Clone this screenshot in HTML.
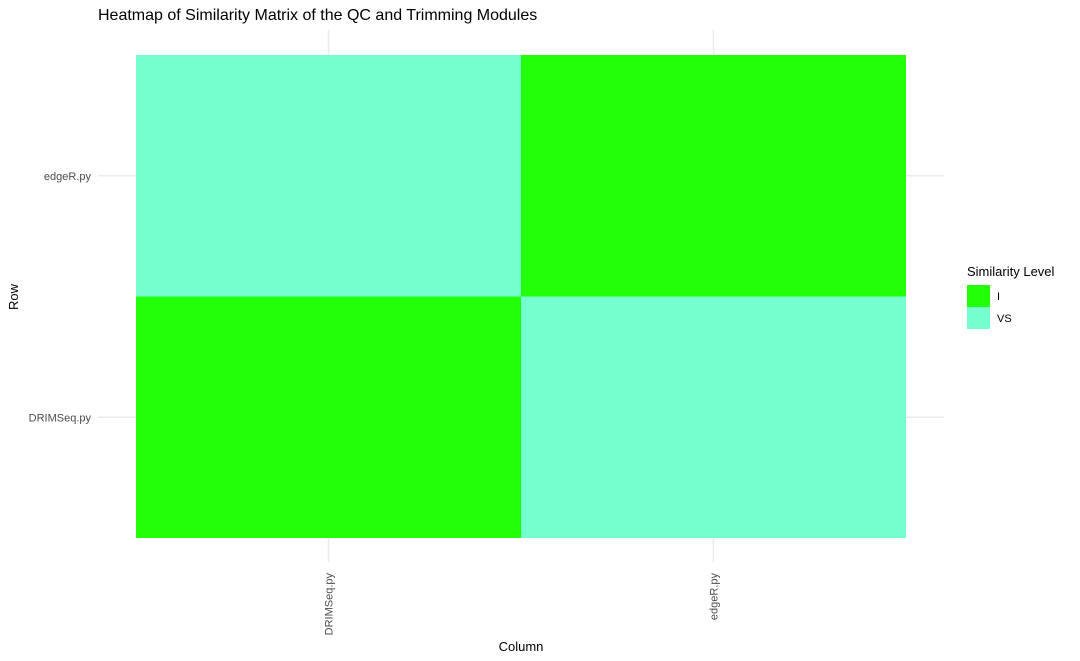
<!DOCTYPE html>
<html><head><meta charset="utf-8"><style>
body{margin:0;background:#fff;}
svg{display:block;font-family:"Liberation Sans",Arial,sans-serif;}
</style></head><body>
<svg id="chart" width="1080" height="661">
<text x="98" y="20" font-size="16" fill="#000">Heatmap of Similarity Matrix of the QC and Trimming Modules</text>
<g id="grid"></g>
<g id="tiles"></g>
<g id="axes"></g>
<text x="521" y="651" font-size="13" text-anchor="middle">Column</text>
<text transform="translate(18,297) rotate(-90)" font-size="13" text-anchor="middle">Row</text>
<g>
<text x="967" y="276" font-size="13">Similarity Level</text>
<g id="legend"></g>
</g>
</svg>
<script>
const columns=["DRIMSeq.py","edgeR.py"];
const rows=["DRIMSeq.py","edgeR.py"];
const cellRow=["DRIMSeq.py","DRIMSeq.py","edgeR.py","edgeR.py"];
const cellCol=["DRIMSeq.py","edgeR.py","DRIMSeq.py","edgeR.py"];
const cellLevel=["I","VS","VS","I"];
const levels=["I","VS"];
const levelColors={"I":"#22ff08","VS":"#75ffcf"};
const NS="http://www.w3.org/2000/svg";
const px0=136,px1=906,py0=55,py1=538;
const cw=(px1-px0)/columns.length, rh=(py1-py0)/rows.length;
function xPos(c){return px0+columns.indexOf(c)*cw;}
function yPos(r){return py1-(rows.indexOf(r)+1)*rh;}
function mk(tag,attrs,parent){const e=document.createElementNS(NS,tag);for(const k in attrs)e.setAttribute(k,attrs[k]);parent.appendChild(e);return e;}
const grid=document.getElementById('grid'),tiles=document.getElementById('tiles'),axes=document.getElementById('axes'),legend=document.getElementById('legend');
columns.forEach(c=>{const x=xPos(c)+cw/2;
 const l=mk('line',{x1:x,x2:x,y1:30,y2:562,stroke:'#ebebeb','stroke-width':1.5},grid);
 
 
 const t=mk('text',{transform:`translate(${x+4},573) rotate(-90)`,'font-size':11,fill:'#4d4d4d','text-anchor':'end'},axes);
 t.textContent=c;
 
 
});
rows.forEach(r=>{const y=yPos(r)+rh/2;
 const l=mk('line',{x1:98,x2:944,y1:y,y2:y,stroke:'#ebebeb','stroke-width':1.5},grid);
 
 
 const t=mk('text',{x:91,y:y+4,'font-size':11,fill:'#4d4d4d','text-anchor':'end'},axes);
 t.textContent=r;
 
 
});
cellLevel.forEach((lv,i)=>{
 const r=mk('rect',{x:xPos(cellCol[i]),y:yPos(cellRow[i]),width:cw,height:rh,fill:levelColors[lv]},tiles);
 
 
});
levels.forEach((lv,i)=>{
 const y=285+i*22;
 const r=mk('rect',{x:967,y:y,width:23,height:22,fill:levelColors[lv]},legend);
 
 
 const t=mk('text',{x:997,y:y+15,'font-size':11,fill:'#000'},legend);
 t.textContent=lv;
 
 
});
</script>
</body></html>
